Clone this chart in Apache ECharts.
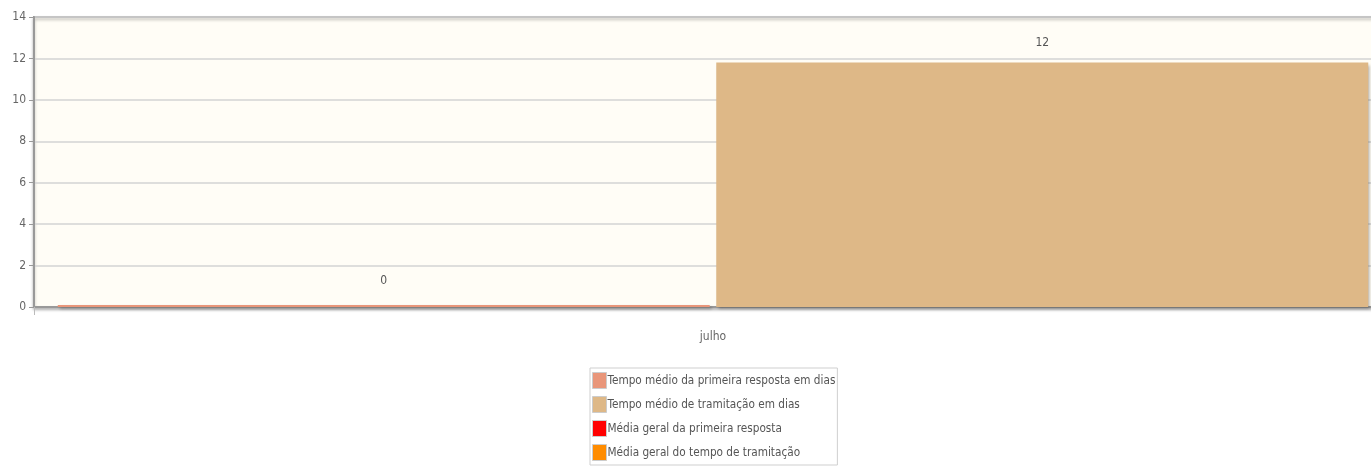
<!DOCTYPE html>
<html><head><meta charset="utf-8">
<script src="https://cdn.jsdelivr.net/npm/echarts@6/dist/echarts.min.js"></script>
<style>html,body{margin:0;padding:0;background:#fff}#c{width:1371px;height:468px}</style>
</head><body><div id="c"></div>
<script>
var categories = ['julho'];
var seriesNames = ['Tempo médio da primeira resposta em dias','Tempo médio de tramitação em dias','Média geral da primeira resposta','Média geral do tempo de tramitação'];
var primeiraResposta = [0];
var tramitacao = [11.8];
var yTicks = [0, 2, 4, 6, 8, 10, 12, 14];
var colors = ['#e9967a', '#deb887', '#ff0000', '#ff8c00'];
var FONT = 'DejaVu Sans Condensed';

var chart = echarts.init(document.getElementById('c'), null, {renderer: 'canvas'});
var barStyle = function (c) {
  return {color: c, shadowColor: 'rgba(0,0,0,0.3)', shadowBlur: 3, shadowOffsetX: 2, shadowOffsetY: 2};
};
chart.setOption({
  animation: false,
  textStyle: {fontFamily: FONT},
  color: colors,
  grid: {left: 34, width: 1358, top: 17, height: 290, outerBoundsMode: 'none', containLabel: false,
         show: true, backgroundColor: '#fffdf6',
         borderColor: '#9a9a9a', borderWidth: 2, shadowColor: 'rgba(0,0,0,0.25)', shadowBlur: 3, shadowOffsetY: 2},
  xAxis: {type: 'category', data: categories,
    axisLine: {lineStyle: {color: '#999', width: 2}},
    axisTick: {show: true, length: 8, lineStyle: {color: '#bbb'}},
    axisLabel: {color: '#666', fontSize: 12, margin: 24, fontFamily: FONT},
    splitLine: {show: false}},
  yAxis: {type: 'value', min: yTicks[0], max: yTicks[yTicks.length - 1], interval: 2,
    axisLine: {show: true, lineStyle: {color: '#999', width: 2}},
    axisTick: {show: true, length: 5, lineStyle: {color: '#999'}},
    axisLabel: {color: '#666', fontSize: 12, margin: 8, fontFamily: FONT},
    splitLine: {lineStyle: {color: '#d3d3d3', width: 1.5}}},
  legend: {orient: 'vertical', left: 590, top: 368, padding: [4, 2, 4, 2], itemGap: 7,
    itemWidth: 14, itemHeight: 16, icon: 'rect',
    backgroundColor: '#fff', borderColor: '#cfcfcf', borderWidth: 1,
    itemStyle: {borderColor: '#ccc', borderWidth: 1},
    textStyle: {color: '#555', fontSize: 11.7, fontFamily: FONT, padding: [0, 0, 0, -4]},
    data: seriesNames},
  series: [
    {name: seriesNames[0], type: 'bar', data: primeiraResposta, barGap: '1%', barCategoryGap: '3.5%',
     barMinHeight: 2, itemStyle: barStyle(colors[0]),
     label: {show: true, position: 'top', distance: 18, color: '#555', fontSize: 12, fontFamily: FONT,
       formatter: function (p) { return Math.round(p.value); }}},
    {name: seriesNames[1], type: 'bar', data: tramitacao, itemStyle: barStyle(colors[1]),
     label: {show: true, position: 'top', distance: 14, color: '#555', fontSize: 12, fontFamily: FONT,
       formatter: function (p) { return Math.round(p.value); }}},
    {name: seriesNames[2], type: 'line', data: [], itemStyle: {color: colors[2]}},
    {name: seriesNames[3], type: 'line', data: [], itemStyle: {color: colors[3]}}
  ]
});
</script></body></html>
